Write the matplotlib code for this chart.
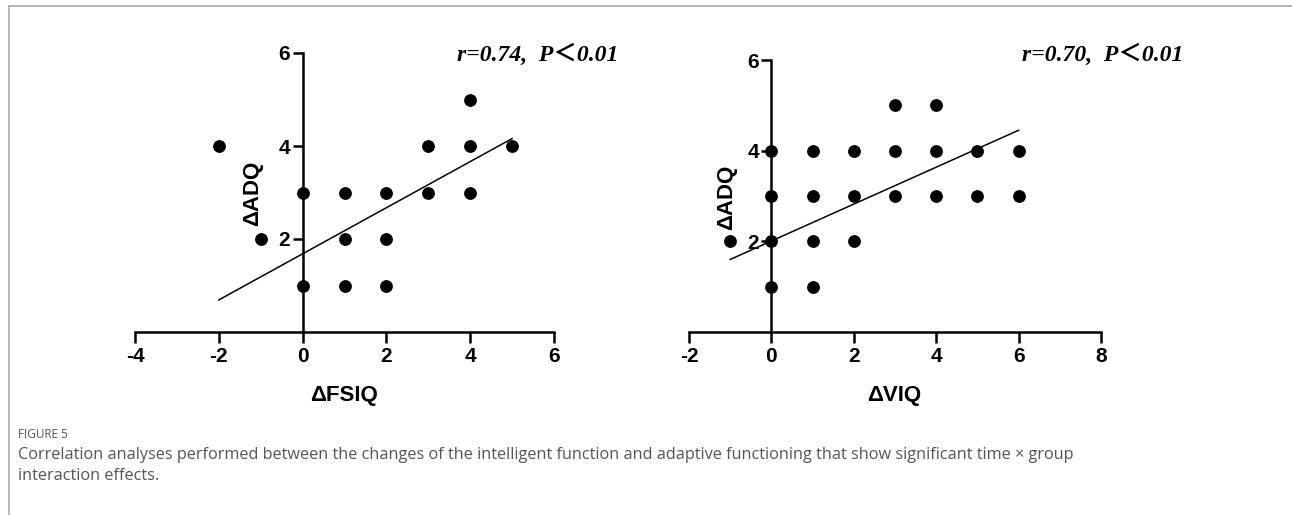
import matplotlib
matplotlib.use('Agg')
import matplotlib.pyplot as plt
from matplotlib.lines import Line2D

plt.rcParams['axes.unicode_minus'] = False

# left panel: change in FSIQ vs change in ADQ
fsiq_x = [-2, -1, 0, 0, 1, 1, 1, 2, 2, 2, 3, 3, 4, 4, 4, 5]
fsiq_y = [4, 2, 3, 1, 3, 2, 1, 3, 2, 1, 4, 3, 5, 4, 3, 4]
fsiq_fit_x = [-2, 5]
fsiq_fit_y = [0.69, 4.16]

# right panel: change in VIQ vs change in ADQ
viq_x = [3, 4, 0, 1, 2, 3, 4, 5, 6, 0, 1, 2, 3, 4, 5, 6, -1, 0, 1, 2, 0, 1]
viq_y = [5, 5, 4, 4, 4, 4, 4, 4, 4, 3, 3, 3, 3, 3, 3, 3, 2, 2, 2, 2, 1, 1]
viq_fit_x = [-1, 6]
viq_fit_y = [1.60, 4.45]

fsiq_xticks = [-4, -2, 0, 2, 4, 6]
viq_xticks = [-2, 0, 2, 4, 6, 8]
adq_yticks = [2, 4, 6]

W, H = 1292, 515
fig = plt.figure(figsize=(W / 100, H / 100), dpi=100)

sans = 'Liberation Sans'
note_font = dict(family=['Liberation Serif', 'Noto Sans CJK SC'], weight='bold', style='italic', size=17)

def panel(rect, xs, ys, fx, fy, xticks, xlabel, note, xlab_pos, ylab_pos, note_pos):
    ax = fig.add_axes(rect)
    ax.scatter(xs, ys, s=85, color='black', zorder=3, clip_on=False, linewidths=0)
    ax.plot(fx, fy, color='black', lw=1.1, zorder=2)
    ax.set_xlim(xticks[0], xticks[-1])
    ax.set_ylim(0, 6)
    ax.set_xticks(xticks)
    ax.set_yticks(adq_yticks)
    for s in ['top', 'right']:
        ax.spines[s].set_visible(False)
    ax.spines['left'].set_position(('data', 0))
    for s in ['left', 'bottom']:
        ax.spines[s].set_linewidth(1.8)
    ax.tick_params(axis='x', length=8, width=1.8, pad=3, labelsize=15)
    ax.tick_params(axis='y', length=7, width=1.8, pad=2, labelsize=15)
    for lab in ax.get_xticklabels() + ax.get_yticklabels():
        lab.set_fontfamily(sans)
        lab.set_fontweight('bold')
    ax.patch.set_visible(False)
    fig.text(xlab_pos[0] / W, 1 - xlab_pos[1] / H, xlabel, ha='center', va='center',
             family=sans, weight='bold', size=16)
    fig.text(ylab_pos[0] / W, 1 - ylab_pos[1] / H, '\u0394ADQ', ha='center', va='center',
             rotation=90, family=sans, weight='bold', size=16)
    fig.text(note_pos[0] / W, 1 - note_pos[1] / H, note, ha='left', va='center', **note_font)
    return ax

panel([135 / W, 1 - 332 / H, 419 / W, 279 / H], fsiq_x, fsiq_y, fsiq_fit_x, fsiq_fit_y,
      fsiq_xticks, '\u0394FSIQ', 'r=0.74,  P\uff1c0.01', (344, 396), (253, 193), (457, 55))
panel([689 / W, 1 - 332 / H, 412 / W, 272 / H], viq_x, viq_y, viq_fit_x, viq_fit_y,
      viq_xticks, '\u0394VIQ', 'r=0.70,  P\uff1c0.01', (894, 396), (727, 197), (1022, 55))

# frame lines of the page
fig.add_artist(Line2D([9 / W, 1], [1 - 6 / H, 1 - 6 / H], color='#aaaaaa', lw=1.2))
fig.add_artist(Line2D([9 / W, 9 / W], [0, 1 - 6 / H], color='#aaaaaa', lw=1.2))

fig.text(18 / W, 1 - 435 / H, 'FIGURE 5', family='Open Sans', size=8.5, color='#555555', va='center')
fig.text(18 / W, 1 - 455 / H,
         'Correlation analyses performed between the changes of the intelligent function and adaptive functioning that show significant time \u00d7 group',
         family='Open Sans', size=11.7, color='#555555', va='center')
fig.text(18 / W, 1 - 476 / H, 'interaction effects.', family='Open Sans', size=11.7, color='#555555', va='center')

fig.savefig('out.png', dpi=100)
